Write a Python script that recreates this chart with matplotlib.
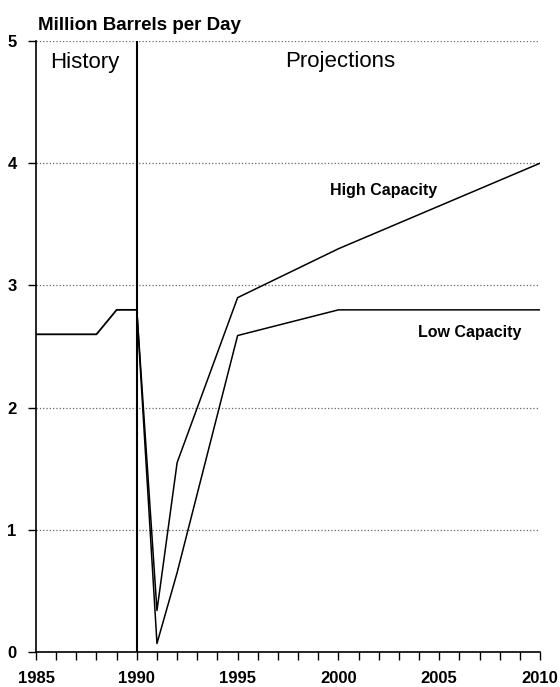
import matplotlib
matplotlib.use("Agg")
import matplotlib.pyplot as plt

plt.rcParams["font.family"] = ["Liberation Sans", "DejaVu Sans"]

# history
hist_years = [1985, 1986, 1987, 1988, 1989, 1990]
hist_vals = [2.6, 2.6, 2.6, 2.6, 2.8, 2.8]

# projections
proj_years = [1990, 1991, 1992, 1995, 2000, 2010]
high_vals = [2.8, 0.34, 1.55, 2.9, 3.3, 4.0]
low_years = [1990, 1991, 1992, 1995, 2000, 2010]
low_vals = [2.8, 0.07, 0.65, 2.59, 2.8, 2.8]

x_labels = [1985, 1990, 1995, 2000, 2005, 2010]
y_labels = [0, 1, 2, 3, 4, 5]

fig = plt.figure(figsize=(5.6, 6.87), dpi=100, facecolor="white")
ax = fig.add_axes([0.0643, 0.0509, 0.9, 0.8894])

ax.plot(hist_years, hist_vals, color="black", lw=1.3)
ax.plot(proj_years, high_vals, color="black", lw=1.1)
ax.plot(low_years, low_vals, color="black", lw=1.1)
ax.axvline(1990, color="black", lw=1.5)

ax.set_xlim(1985, 2010)
ax.set_ylim(0, 5)
ax.set_xticks(range(1985, 2011))
ax.set_xticklabels([str(y) if y in x_labels else "" for y in range(1985, 2011)])
ax.set_yticks(y_labels)
ax.set_yticklabels([str(v) for v in y_labels])

ax.grid(axis="y", linestyle=":", color="#666666", lw=0.9)
ax.set_axisbelow(True)
for s in ["top", "right"]:
    ax.spines[s].set_visible(False)
for s in ["left", "bottom"]:
    ax.spines[s].set_linewidth(1.2)
ax.tick_params(axis="x", direction="out", length=6, width=1.0, pad=8,
               labelsize=12)
ax.tick_params(axis="y", direction="out", length=6, width=1.0, pad=8,
               labelsize=12)
for lab in ax.get_xticklabels() + ax.get_yticklabels():
    lab.set_fontweight("bold")

fig.text(0.068, 0.956, "Million Barrels per Day", fontsize=13.5,
         fontweight="bold", ha="left", va="baseline")
ax.text(1985.7, 4.78, "History", fontsize=16, ha="left", va="baseline")
ax.text(1997.35, 4.79, "Projections", fontsize=16, ha="left", va="baseline")
ax.text(1999.58, 3.74, "High Capacity", fontsize=11.5, fontweight="bold",
        ha="left", va="baseline")
ax.text(2003.95, 2.58, "Low Capacity", fontsize=11.5, fontweight="bold",
        ha="left", va="baseline")

fig.savefig("out.png", dpi=100, facecolor="white")
